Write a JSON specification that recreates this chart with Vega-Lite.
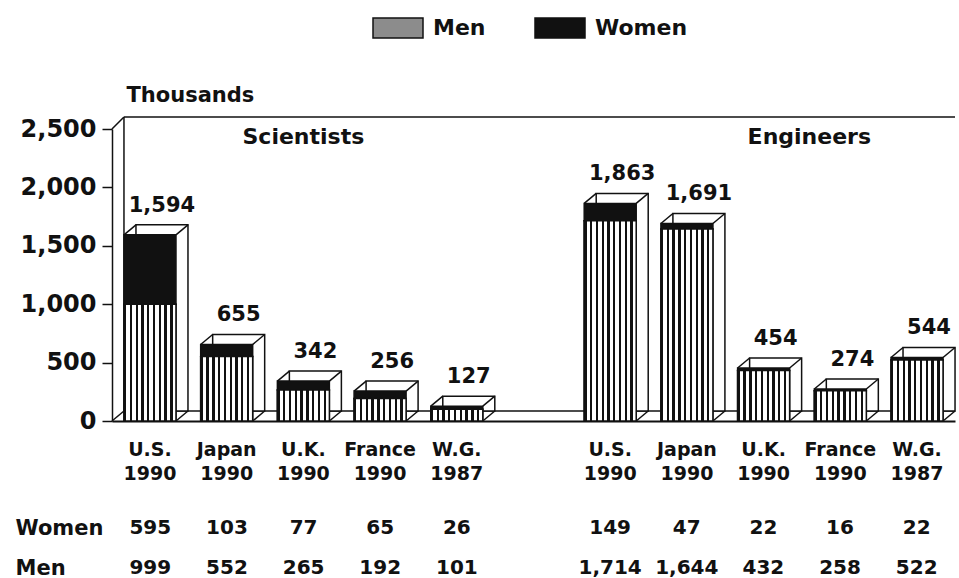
{
  "$schema": "https://vega.github.io/schema/vega-lite/v6.json",
  "background": "white",
  "padding": {"left": 15, "top": 17, "right": 0, "bottom": 0},
  "config": {
    "font": "DejaVu Sans",
    "view": {"stroke": null},
    "axis": {"labelColor": "#111", "titleColor": "#111", "domainColor": "#111", "tickColor": "#111", "grid": false}
  },
  "datasets": {
    "parts": [
      {"cat": "S|U.S.|1990", "sex": "Men", "value": 999},
      {"cat": "S|U.S.|1990", "sex": "Women", "value": 595},
      {"cat": "S|Japan|1990", "sex": "Men", "value": 552},
      {"cat": "S|Japan|1990", "sex": "Women", "value": 103},
      {"cat": "S|U.K.|1990", "sex": "Men", "value": 265},
      {"cat": "S|U.K.|1990", "sex": "Women", "value": 77},
      {"cat": "S|France|1990", "sex": "Men", "value": 192},
      {"cat": "S|France|1990", "sex": "Women", "value": 65},
      {"cat": "S|W.G.|1987", "sex": "Men", "value": 101},
      {"cat": "S|W.G.|1987", "sex": "Women", "value": 26},
      {"cat": "E|U.S.|1990", "sex": "Men", "value": 1714},
      {"cat": "E|U.S.|1990", "sex": "Women", "value": 149},
      {"cat": "E|Japan|1990", "sex": "Men", "value": 1644},
      {"cat": "E|Japan|1990", "sex": "Women", "value": 47},
      {"cat": "E|U.K.|1990", "sex": "Men", "value": 432},
      {"cat": "E|U.K.|1990", "sex": "Women", "value": 22},
      {"cat": "E|France|1990", "sex": "Men", "value": 258},
      {"cat": "E|France|1990", "sex": "Women", "value": 16},
      {"cat": "E|W.G.|1987", "sex": "Men", "value": 522},
      {"cat": "E|W.G.|1987", "sex": "Women", "value": 22}
    ],
    "totals": [
      {"cat": "S|U.S.|1990", "value": 1594},
      {"cat": "S|Japan|1990", "value": 655},
      {"cat": "S|U.K.|1990", "value": 342},
      {"cat": "S|France|1990", "value": 256},
      {"cat": "S|W.G.|1987", "value": 127},
      {"cat": "E|U.S.|1990", "value": 1863},
      {"cat": "E|Japan|1990", "value": 1691},
      {"cat": "E|U.K.|1990", "value": 454},
      {"cat": "E|France|1990", "value": 274},
      {"cat": "E|W.G.|1987", "value": 544}
    ]
  },
  "spacing": 34,
  "vconcat": [
    {
      "width": 843,
      "height": 292,
      "layer": [
        {
          "data": {"values": [{}]},
          "mark": {"type": "rule", "stroke": "#111", "strokeWidth": 1.5, "yOffset": -10, "y2Offset": -10, "x2Offset": 12},
          "encoding": {
            "x": {"datum": "S|U.S.|1990", "bandPosition": 0, "scale": {"domain": ["S|U.S.|1990", "S|Japan|1990", "S|U.K.|1990", "S|France|1990", "S|W.G.|1987", "gap", "E|U.S.|1990", "E|Japan|1990", "E|U.K.|1990", "E|France|1990", "E|W.G.|1987"], "paddingInner": 0.322, "paddingOuter": 0.156}},
            "x2": {"datum": "E|W.G.|1987", "bandPosition": 1},
            "y": {"datum": 0, "scale": {"domain": [0, 2500], "nice": false}},
            "y2": {"datum": 0}
          }
        },
        {
          "data": {"values": [{}]},
          "mark": {"type": "rule", "stroke": "#111", "strokeWidth": 1.5, "yOffset": -12, "y2Offset": -12, "x2Offset": 12},
          "encoding": {
            "x": {"datum": "S|U.S.|1990", "bandPosition": 0},
            "x2": {"datum": "E|W.G.|1987", "bandPosition": 1},
            "y": {"datum": 2500},
            "y2": {"datum": 2500}
          }
        },
        {
          "data": {"values": [{}]},
          "mark": {"type": "rule", "stroke": "#111", "strokeWidth": 1.5, "yOffset": -10, "y2Offset": -12},
          "encoding": {
            "x": {"datum": "S|U.S.|1990", "bandPosition": 0},
            "y": {"datum": 0},
            "y2": {"datum": 2500}
          }
        },
        {
          "data": {"values": [{}]},
          "mark": {"type": "rule", "stroke": "#111", "strokeWidth": 1.5, "xOffset": -12, "y2Offset": -12},
          "encoding": {
            "x": {"datum": "S|U.S.|1990", "bandPosition": 0},
            "x2": {"datum": "S|U.S.|1990", "bandPosition": 0},
            "y": {"datum": 2500},
            "y2": {"datum": 2500}
          }
        },
        {
          "data": {"values": [{}]},
          "mark": {"type": "rule", "stroke": "#111", "strokeWidth": 1.5, "xOffset": -12, "y2Offset": -10},
          "encoding": {
            "x": {"datum": "S|U.S.|1990", "bandPosition": 0},
            "x2": {"datum": "S|U.S.|1990", "bandPosition": 0},
            "y": {"datum": 0},
            "y2": {"datum": 0}
          }
        },
        {
          "data": {"name": "totals"},
          "mark": {"type": "bar", "fill": "white", "stroke": "#111", "strokeWidth": 1.5, "xOffset": 12, "yOffset": -10, "y2Offset": -10},
          "encoding": {
            "x": {"field": "cat", "type": "nominal"},
            "y": {"field": "value", "type": "quantitative"}
          }
        },
        {
          "data": {"name": "parts"},
          "mark": {"type": "bar", "stroke": "#111", "strokeWidth": 1.5},
          "encoding": {
            "x": {
              "field": "cat", "type": "nominal",
              "axis": {"title": null, "labelExpr": "datum.value == 'gap' ? '' : slice(split(datum.value, '|'), 1)", "ticks": false, "labelPadding": 19, "labelFontSize": 19, "labelFontWeight": "bold", "labelLineHeight": 24, "labelBaseline": "top", "labelAlign": "center", "labelAngle": 0, "domainWidth": 2}
            },
            "y": {
              "field": "value", "type": "quantitative",
              "axis": {"values": [0, 500, 1000, 1500, 2000, 2500], "labelExpr": "format(datum.value, ',')", "title": "Thousands", "titleAngle": 0, "titleAlign": "left", "titleBaseline": "alphabetic", "titleX": 14, "titleY": -28, "titleFontSize": 21, "titleFontWeight": "bold", "labelFontSize": 24, "labelFontWeight": "bold", "tickSize": 10, "tickWidth": 1.5, "labelPadding": 6, "domainWidth": 1.5}
            },
            "color": {
              "field": "sex", "type": "nominal",
              "scale": {"domain": ["Men", "Women"], "range": ["#8c8c8c", "#111111"]},
              "legend": {
                "title": null, "orient": "none", "legendX": 275, "legendY": -112, "direction": "horizontal",
                "symbolType": "M-2.5,-1H2.5V1H-2.5Z", "symbolSize": 400, "symbolStrokeColor": "#111", "symbolStrokeWidth": 1.5, "symbolOpacity": 1,
                "labelFontSize": 22, "labelFontWeight": "bold", "labelOffset": 24, "columnPadding": 46, "labelColor": "#111"
              }
            },
            "order": {"field": "sex", "sort": "ascending"}
          }
        },
        {
          "data": {"name": "parts"},
          "transform": [{"filter": "datum.sex === 'Men'"}],
          "mark": {
            "type": "bar", "stroke": "#111", "strokeWidth": 1.5,
            "fill": {"gradient": "linear", "x1": 0, "y1": 0, "x2": 1, "y2": 0, "stops": [
              {"offset": 0, "color": "#111"}, {"offset": 0.045, "color": "#111"}, {"offset": 0.045, "color": "#fff"}, {"offset": 0.1111, "color": "#fff"},
              {"offset": 0.1111, "color": "#111"}, {"offset": 0.1561, "color": "#111"}, {"offset": 0.1561, "color": "#fff"}, {"offset": 0.2222, "color": "#fff"},
              {"offset": 0.2222, "color": "#111"}, {"offset": 0.2672, "color": "#111"}, {"offset": 0.2672, "color": "#fff"}, {"offset": 0.3333, "color": "#fff"},
              {"offset": 0.3333, "color": "#111"}, {"offset": 0.3783, "color": "#111"}, {"offset": 0.3783, "color": "#fff"}, {"offset": 0.4444, "color": "#fff"},
              {"offset": 0.4444, "color": "#111"}, {"offset": 0.4894, "color": "#111"}, {"offset": 0.4894, "color": "#fff"}, {"offset": 0.5556, "color": "#fff"},
              {"offset": 0.5556, "color": "#111"}, {"offset": 0.6006, "color": "#111"}, {"offset": 0.6006, "color": "#fff"}, {"offset": 0.6667, "color": "#fff"},
              {"offset": 0.6667, "color": "#111"}, {"offset": 0.7117, "color": "#111"}, {"offset": 0.7117, "color": "#fff"}, {"offset": 0.7778, "color": "#fff"},
              {"offset": 0.7778, "color": "#111"}, {"offset": 0.8228, "color": "#111"}, {"offset": 0.8228, "color": "#fff"}, {"offset": 0.8889, "color": "#fff"},
              {"offset": 0.8889, "color": "#111"}, {"offset": 0.9339, "color": "#111"}, {"offset": 0.9339, "color": "#fff"}, {"offset": 1, "color": "#fff"}
            ]}
          },
          "encoding": {
            "x": {"field": "cat", "type": "nominal"},
            "y": {"field": "value", "type": "quantitative"}
          }
        },
        {
          "data": {"name": "totals"},
          "mark": {"type": "rule", "stroke": "#111", "strokeWidth": 1.5, "x2Offset": 12, "y2Offset": -10},
          "encoding": {
            "x": {"field": "cat", "type": "nominal", "bandPosition": 0},
            "x2": {"field": "cat", "bandPosition": 0},
            "y": {"field": "value", "type": "quantitative"},
            "y2": {"field": "value"}
          }
        },
        {
          "data": {"name": "totals"},
          "mark": {"type": "rule", "stroke": "#111", "strokeWidth": 1.5, "x2Offset": 12, "y2Offset": -10},
          "encoding": {
            "x": {"field": "cat", "type": "nominal", "bandPosition": 1},
            "x2": {"field": "cat", "bandPosition": 1},
            "y": {"field": "value", "type": "quantitative"},
            "y2": {"field": "value"}
          }
        },
        {
          "data": {"name": "totals"},
          "mark": {"type": "rule", "stroke": "#111", "strokeWidth": 1.5, "x2Offset": 12, "y2Offset": -10},
          "encoding": {
            "x": {"field": "cat", "type": "nominal", "bandPosition": 1},
            "x2": {"field": "cat", "bandPosition": 1},
            "y": {"datum": 0},
            "y2": {"datum": 0}
          }
        },
        {
          "data": {"name": "totals"},
          "mark": {"type": "text", "dx": 12, "dy": -23, "baseline": "alphabetic", "fontSize": 21, "fontWeight": "bold", "color": "#111"},
          "encoding": {
            "x": {"field": "cat", "type": "nominal"},
            "y": {"field": "value", "type": "quantitative"},
            "text": {"field": "value", "type": "quantitative", "format": ","}
          }
        },
        {
          "data": {"values": [{}]},
          "mark": {"type": "text", "text": "Scientists", "dy": 15, "baseline": "alphabetic", "fontSize": 22, "fontWeight": "bold", "color": "#111"},
          "encoding": {
            "x": {"datum": "S|U.K.|1990"},
            "y": {"datum": 2500}
          }
        },
        {
          "data": {"values": [{}]},
          "mark": {"type": "text", "text": "Engineers", "dx": -5, "dy": 15, "baseline": "alphabetic", "fontSize": 22, "fontWeight": "bold", "color": "#111"},
          "encoding": {
            "x": {"datum": "E|France|1990", "bandPosition": 0},
            "y": {"datum": 2500}
          }
        }
      ]
    },
    {
      "width": 843,
      "height": 60,
      "data": {"name": "parts"},
      "mark": {"type": "text", "fontSize": 20, "fontWeight": "bold", "color": "#111"},
      "encoding": {
        "x": {"field": "cat", "type": "nominal", "scale": {"domain": ["S|U.S.|1990", "S|Japan|1990", "S|U.K.|1990", "S|France|1990", "S|W.G.|1987", "gap", "E|U.S.|1990", "E|Japan|1990", "E|U.K.|1990", "E|France|1990", "E|W.G.|1987"], "paddingInner": 0.322, "paddingOuter": 0.156}, "axis": null},
        "y": {"field": "sex", "type": "nominal", "scale": {"type": "point", "domain": ["Women", "Men"], "padding": 0.25}, "axis": {"title": null, "domain": false, "ticks": false, "tickSize": 0, "labelAlign": "left", "labelPadding": 97, "labelFontSize": 21, "labelFontWeight": "bold", "labelBaseline": "middle"}},
        "text": {"field": "value", "type": "quantitative", "format": ","}
      }
    }
  ]
}
